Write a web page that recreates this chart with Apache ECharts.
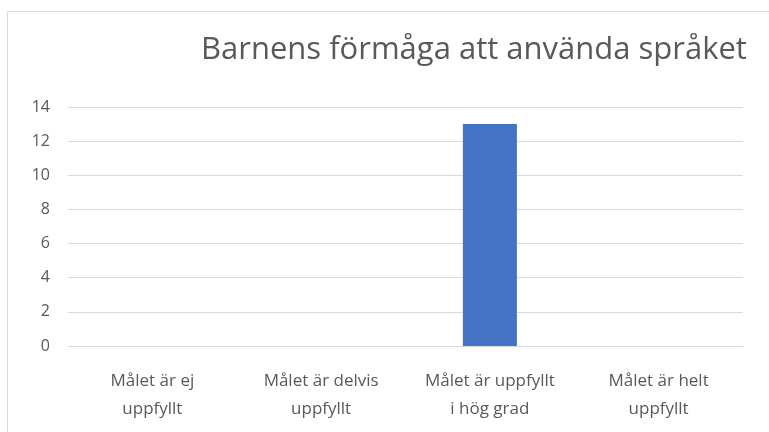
<!DOCTYPE html>
<html>
<head>
<meta charset="utf-8">
<script src="https://cdn.jsdelivr.net/npm/echarts@6/dist/echarts.min.js"></script>
<style>
  html, body { margin: 0; padding: 0; background: #fff; }
  #chart { width: 769px; height: 432px; }
</style>
</head>
<body>
<div id="chart"></div>
<script>
// kategorier och värden
const categories = [
  "Målet är ej\nuppfyllt",
  "Målet är delvis\nuppfyllt",
  "Målet är uppfyllt\ni hög grad",
  "Målet är helt\nuppfyllt"
];
const values = [0, 0, 13, 0];
const titleText = "Barnens förmåga att använda språket";

const font = "'Open Sans', sans-serif";

let chart = echarts.init(document.getElementById("chart"));
chart.setOption({
  animation: false,
  textStyle: { fontFamily: font },
  graphic: [
    {
      type: "rect",
      left: 5,
      top: 9,
      shape: { width: 800, height: 500 },
      style: { fill: "none", stroke: "#d9d9d9", lineWidth: 1 }
    }
  ],
  title: {
    text: titleText,
    left: 196,
    top: 30,
    textStyle: { fontFamily: font, fontSize: 31, fontWeight: "normal", color: "#595959" }
  },
  grid: { left: 68, right: 26, top: 107, bottom: 86 },
  xAxis: {
    type: "category",
    data: categories,
    axisLine: { lineStyle: { color: "#d9d9d9" } },
    axisTick: { show: false },
    axisLabel: { color: "#595959", fontSize: 17, lineHeight: 28, margin: 21, interval: 0 }
  },
  yAxis: {
    type: "value",
    min: 0,
    max: 14,
    interval: 2,
    splitLine: { lineStyle: { color: "#d9d9d9" } },
    axisLabel: { color: "#595959", fontSize: 16, margin: 18 }
  },
  series: [
    {
      type: "bar",
      data: values,
      barWidth: "32%",
      itemStyle: { color: "#4472c4" }
    }
  ]
});
</script>
</body>
</html>
